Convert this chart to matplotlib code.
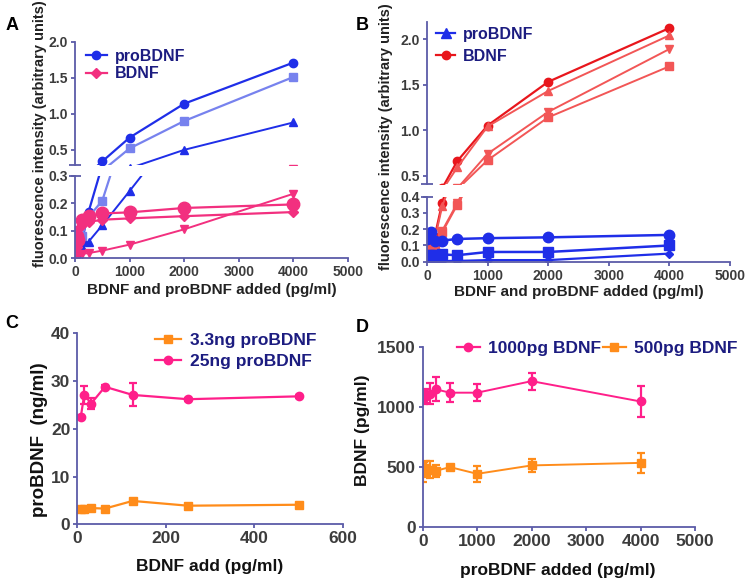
import numpy as np
import matplotlib
matplotlib.use("Agg")
import matplotlib.pyplot as plt
from matplotlib.lines import Line2D

plt.rcParams['font.family'] = ['Liberation Sans', 'DejaVu Sans']
plt.rcParams['font.weight'] = 'bold'

# %% Data
x_ab = [0, 31.25, 62.5, 125, 250, 500, 1000, 2000, 4000]

# panel A
a_pro_circle = [0.0, 0.03, 0.04, 0.06, 0.17, 0.34, 0.67, 1.14, 1.71]
a_pro_square = [0.0, 0.03, 0.05, 0.08, 0.15, 0.21, 0.52, 0.90, 1.51]
a_pro_tri = [0.0, 0.02, 0.03, 0.04, 0.06, 0.12, 0.245, 0.50, 0.88]
a_bd_circle = [0.095, 0.08, 0.065, 0.138, 0.153, 0.163, 0.167, 0.183, 0.196]
a_bd_diamond = [0.02, 0.04, 0.06, 0.12, 0.132, 0.14, 0.145, 0.153, 0.168]
a_bd_down = [0.01, 0.01, 0.012, 0.015, 0.018, 0.027, 0.049, 0.105, 0.235]

# panel B
b_bd_circle = [0.05, 0.08, 0.10, 0.15, 0.36, 0.66, 1.05, 1.53, 2.12]
b_bd_up = [0.04, 0.07, 0.09, 0.13, 0.34, 0.59, 1.04, 1.43, 2.04]
b_bd_down = [0.03, 0.06, 0.08, 0.10, 0.19, 0.36, 0.74, 1.20, 1.89]
b_bd_square = [0.02, 0.05, 0.07, 0.09, 0.18, 0.35, 0.67, 1.14, 1.70]
b_pro_circle = [0.14, 0.17, 0.18, 0.13, 0.13, 0.14, 0.145, 0.15, 0.165]
b_pro_square = [0.03, 0.04, 0.04, 0.04, 0.045, 0.04, 0.06, 0.06, 0.10]
b_pro_diamond = [0.0, 0.005, 0.005, 0.005, 0.005, 0.005, 0.01, 0.01, 0.05]

# panel C
x_c = [7.8, 15.6, 31.25, 62.5, 125, 250, 500]
c_33ng = [3.2, 3.2, 3.4, 3.3, 4.9, 3.9, 4.1]
c_33ng_err = [0.3, 0.3, 0.3, 0.3, 0.4, 0.3, 0.3]
c_25ng = [22.5, 27.1, 25.3, 28.8, 27.1, 26.2, 26.8]
c_25ng_err = [0.3, 1.8, 1.2, 0.4, 2.4, 0.3, 0.3]

# panel D
x_d = [0, 31.25, 62.5, 125, 250, 500, 1000, 2000, 4000]
d_1000pg = [1068, 1080, 1090, 1110, 1145, 1118, 1118, 1214, 1045]
d_1000pg_err = [30, 60, 60, 90, 100, 80, 70, 70, 125]
d_500pg = [459, 480, 490, 480, 470, 500, 444, 514, 535]
d_500pg_err = [80, 60, 60, 70, 50, 15, 65, 55, 85]

SPINE = '#5c5ca8'
TICKC = '#3c3c3c'
LEGC = '#1c1c80'
BLUE = '#1f2ee8'
LBLUE = '#7782ee'
PINK = '#f2307f'
RED = '#e8161c'
LRED = '#f25656'
ORANGE = '#ff8c1a'
MAG = '#ff1f8a'


def style(ax, bottom=True, fs=10):
    ax.spines['right'].set_visible(False)
    ax.spines['top'].set_visible(False)
    for s in ['left', 'bottom']:
        ax.spines[s].set_color(SPINE)
        ax.spines[s].set_linewidth(1.3)
    ax.tick_params(colors=SPINE, labelcolor=TICKC, labelsize=fs, width=1.3, length=3, pad=2)
    ax.set_facecolor('none')
    if not bottom:
        ax.spines['bottom'].set_visible(False)
        ax.tick_params(axis='x', bottom=False, labelbottom=False)


def cap(ax, where):
    # small horizontal cap marking the axis break
    ax.plot([0], [where], transform=ax.transAxes, marker='_', ms=8, mew=1.3,
            color=SPINE, clip_on=False)


def legend(ax, handles, labels, anchor, fs, **kw):
    ax.legend(handles=handles, labels=labels, loc='upper left', bbox_to_anchor=anchor,
              frameon=False, fontsize=fs, labelcolor=LEGC, borderaxespad=0,
              borderpad=0, handletextpad=0.5, **kw)


fig = plt.figure(figsize=(7.5, 5.82), dpi=100)

# %% Panel A (broken y axis)
a_up = fig.add_axes([0.1, 0.7165, 0.364, 0.2119])
a_lo = fig.add_axes([0.1, 0.5567, 0.364, 0.1409])
for ax in (a_up, a_lo):
    ax.plot(x_ab, a_pro_circle, '-o', color=BLUE, ms=6, lw=1.6)
    ax.plot(x_ab, a_pro_square, '-s', color=LBLUE, ms=6, lw=1.6)
    ax.plot(x_ab, a_pro_tri, '-^', color=BLUE, ms=6, lw=1.4)
    ax.plot(x_ab, a_bd_circle, '-o', color=PINK, ms=9, lw=1.6)
    ax.plot(x_ab, a_bd_diamond, '-D', color=PINK, ms=5, lw=1.6)
    ax.plot(x_ab, a_bd_down, '-v', color=PINK, ms=6, lw=1.4)
    ax.set_xlim(0, 5000)
a_up.set_ylim(0.29, 2.0)
a_up.set_yticks([0.5, 1.0, 1.5, 2.0])
a_up.set_yticklabels(['0.5', '1.0', '1.5', '2.0'])
style(a_up, bottom=False)
cap(a_up, 0)
a_lo.set_ylim(0, 0.3)
a_lo.set_yticks([0, 0.1, 0.2, 0.3])
a_lo.set_yticklabels(['0.0', '0.1', '0.2', '0.3'])
a_lo.set_xticks([0, 1000, 2000, 3000, 4000, 5000])
style(a_lo)
cap(a_lo, 1)
legend(a_up, [Line2D([], [], color=BLUE, marker='o', ms=6, lw=1.6),
              Line2D([], [], color=PINK, marker='D', ms=5, lw=1.6)],
       ['proBDNF', 'BDNF'], (0.04, 0.94), 11.5, handlelength=1.3, labelspacing=0.15)
fig.text(40 / 750, 1 - 134 / 582, 'fluorescence intensity (arbitrary units)', rotation=90,
         ha='center', va='center', fontsize=10.5, color='#222222')
fig.text(212 / 750, 1 - 290 / 582, 'BDNF and proBDNF added (pg/ml)', ha='center',
         va='center', fontsize=11, color='#222222')

# %% Panel B (broken y axis)
b_up = fig.add_axes([0.5693, 0.6833, 0.404, 0.2794])
b_lo = fig.add_axes([0.5693, 0.5503, 0.404, 0.1117])
for ax in (b_up, b_lo):
    ax.plot(x_ab, b_bd_circle, '-o', color=RED, ms=6, lw=1.6)
    ax.plot(x_ab, b_bd_up, '-^', color=LRED, ms=6, lw=1.4)
    ax.plot(x_ab, b_bd_down, '-v', color=LRED, ms=6, lw=1.4)
    ax.plot(x_ab, b_bd_square, '-s', color=LRED, ms=6, lw=1.4)
    ax.plot(x_ab, b_pro_circle, '-o', color=BLUE, ms=7.5, lw=1.8)
    ax.plot(x_ab, b_pro_square, '-s', color=BLUE, ms=7.5, lw=1.8)
    ax.plot(x_ab, b_pro_diamond, '-D', color=BLUE, ms=4, lw=1.6)
    ax.set_xlim(0, 5000)
b_up.set_ylim(0.405, 2.19)
b_up.set_yticks([0.5, 1.0, 1.5, 2.0])
b_up.set_yticklabels(['0.5', '1.0', '1.5', '2.0'])
style(b_up, bottom=False)
cap(b_up, 0)
b_lo.set_ylim(0, 0.4)
b_lo.set_yticks([0, 0.1, 0.2, 0.3, 0.4])
b_lo.set_yticklabels(['0.0', '0.1', '0.2', '0.3', '0.4'])
b_lo.set_xticks([0, 1000, 2000, 3000, 4000, 5000])
style(b_lo)
cap(b_lo, 1)
legend(b_up, [Line2D([], [], color=BLUE, marker='^', ms=7, lw=1.6),
              Line2D([], [], color=RED, marker='o', ms=6, lw=1.6)],
       ['proBDNF', 'BDNF'], (0.03, 0.97), 11.5, handlelength=1.2, labelspacing=0.45)
fig.text(386 / 750, 1 - 137 / 582, 'fluorescence intensity (arbitrary units)', rotation=90,
         ha='center', va='center', fontsize=10.5, color='#222222')
fig.text(579 / 750, 1 - 292 / 582, 'BDNF and proBDNF added (pg/ml)', ha='center',
         va='center', fontsize=11, color='#222222')

# %% Panel C
c_ax = fig.add_axes([0.1031, 0.0991, 0.3539, 0.3282])
c_ax.errorbar(x_c, c_33ng, yerr=c_33ng_err, fmt='-s', color=ORANGE, ms=6, lw=1.6,
              capsize=3, elinewidth=1.6, capthick=1.6)
c_ax.errorbar(x_c, c_25ng, yerr=c_25ng_err, fmt='-o', color=MAG, ms=6, lw=1.6,
              capsize=3, elinewidth=1.6, capthick=1.6)
c_ax.set_xlim(0, 600)
c_ax.set_ylim(0, 40)
c_ax.set_xticks([0, 200, 400, 600])
c_ax.set_yticks([0, 10, 20, 30, 40])
style(c_ax, fs=12.5)
legend(c_ax, [Line2D([], [], color=ORANGE, marker='s', ms=6, lw=1.6),
              Line2D([], [], color=MAG, marker='o', ms=6, lw=1.6)],
       ['3.3ng proBDNF', '25ng proBDNF'], (0.293, 1.0), 12.5, handlelength=1.5,
       labelspacing=0.3)
fig.text(40 / 750, 1 - 440 / 582, 'proBDNF  (ng/ml)', rotation=90, ha='center',
         va='center', fontsize=13.5, color='#111111')
fig.text(210 / 750, 1 - 567 / 582, 'BDNF add (pg/ml)', ha='center', va='center',
         fontsize=12.5, color='#111111')

# %% Panel D
d_ax = fig.add_axes([0.5636, 0.094, 0.3631, 0.3103])
d_ax.errorbar(x_d, d_1000pg, yerr=d_1000pg_err, fmt='-o', color=MAG, ms=6, lw=1.4,
              capsize=3, elinewidth=1.6, capthick=1.6)
d_ax.errorbar(x_d, d_500pg, yerr=d_500pg_err, fmt='-s', color=ORANGE, ms=6, lw=1.4,
              capsize=3, elinewidth=1.6, capthick=1.6)
d_ax.set_xlim(0, 5000)
d_ax.set_ylim(0, 1500)
d_ax.set_xticks([0, 1000, 2000, 3000, 4000, 5000])
d_ax.set_yticks([0, 500, 1000, 1500])
style(d_ax, fs=12.5)
legend(d_ax, [Line2D([], [], color=MAG, marker='o', ms=6, lw=1.6),
              Line2D([], [], color=ORANGE, marker='s', ms=6, lw=1.6)],
       ['1000pg BDNF', '500pg BDNF'], (0.126, 1.03), 12.5, ncol=2,
       handlelength=1.3, columnspacing=0.1)
fig.text(362 / 750, 1 - 430 / 582, 'BDNF (pg/ml)', rotation=90, ha='center',
         va='center', fontsize=12.5, color='#111111')
fig.text(558 / 750, 1 - 570 / 582, 'proBDNF added (pg/ml)', ha='center', va='center',
         fontsize=12.5, color='#111111')

# %% Panel letters
for lbl, px, py in [('A', 12, 25), ('B', 362, 25), ('C', 12, 323), ('D', 362, 327)]:
    fig.text(px / 750, 1 - py / 582, lbl, ha='center', va='center', fontsize=13,
             color='black')

fig.savefig('out.png', dpi=100)
